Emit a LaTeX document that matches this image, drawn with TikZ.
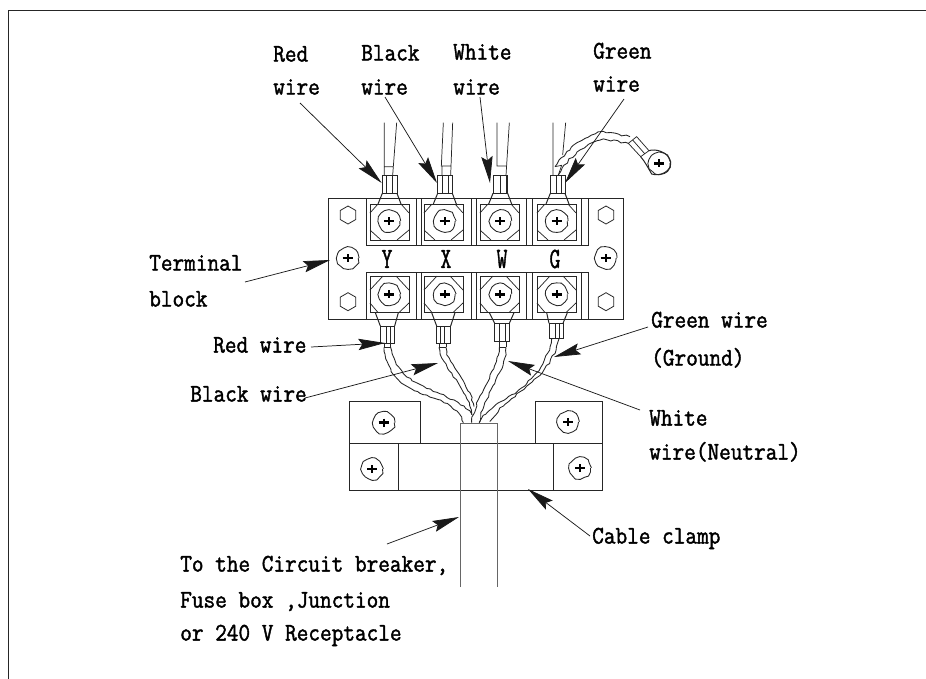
\documentclass[tikz,border=0pt]{standalone}
\usepackage{fontspec}
\setmainfont{Latin Modern Mono}[FakeStretch=.893,FakeBold=1.6]
\usetikzlibrary{arrows.meta,decorations.pathmorphing,shapes.geometric}
\tikzset{
  lbl/.style={anchor=mid west,inner sep=0pt,yshift=-3.5pt,font=\fontsize{19}{20}\selectfont},
  letter/.style={inner sep=0pt,font=\fontsize{22}{22}\selectfont,xscale=.8},
  ln/.style={line width=.75pt,black!85},
  thin ln/.style={line width=.55pt,black!85},
  callout/.style={line width=.55pt,black!90,-{Stealth[length=20pt,width=8.5pt,inset=3pt]}},
  wavy/.style={line width=.65pt,black!85,decorate,decoration={random steps,segment length=2.8pt,amplitude=.7pt}},
  hole/.style={regular polygon,regular polygon sides=6,shape border rotate=30,draw,line width=.6pt,black!85,minimum size=13.5pt,inner sep=0pt},
  zoomA/.style={shift={(320,20)},x=.25pt,y=-.25pt},
  zoomB/.style={shift={(320,240)},x=.25pt,y=-.25pt},
}
\pgfmathsetseed{7}
\newcommand{\myscrew}[3]{%
  \begin{scope}[shift={(#1,#2)},rotate=#3]
    \draw[wavy,decoration={random steps,segment length=3pt,amplitude=.6pt}] (0,0) circle (10.5);
    \draw[line width=2pt,black] (-5,0) -- (5,0);
    \draw[line width=1.4pt,black] (0,-4) -- (0,4);
  \end{scope}}
\begin{document}
\begin{tikzpicture}[x=.75pt,y=-.75pt]
\useasboundingbox (0,0) rectangle (926,679);
% page frame
\draw[ln] (8,679) -- (8,10) -- (926,10);
% terminal block
\draw[ln] (328,198) rectangle (623,319);
\foreach \a/\b in {366/416,421/471.5,476/526,532/581.5}{
  \draw[ln] (\a,198) -- (\a,245) -- (\b,245) -- (\b,198);
  \draw[ln] (\a,319) -- (\a,272) -- (\b,272) -- (\b,319);
}
\draw[ln] (588,198) -- (588,245) -- (581.5,245) (588,319) -- (588,272) -- (581.5,272);
\draw[ln] (416,245) -- (421,245) (471.5,245) -- (476,245) (526,245) -- (532,245);
\draw[ln] (416,272) -- (421,272) (471.5,272) -- (476,272) (526,272) -- (532,272);
% screw squares and lugs
\foreach \l in {370,424,480,537}{
  \draw[ln] (\l,204) rectangle +(39,36);
  \draw[ln] (\l,276) rectangle +(39,36.5);
  \draw[thin ln] (\l,230) -- +(11,10) (\l+39,230) -- +(-12,10);
  \draw[thin ln] (\l,213) -- +(8,-9) (\l+39,213) -- +(-8,-9);
  \draw[thin ln] (\l,290) -- +(13,-14) (\l+39,290) -- +(-13,-14);
  \draw[thin ln] (\l,303) -- +(8,9.5) (\l+39,303) -- +(-10,9.5);
}
% screws in terminals
\foreach \c in {389.3,444.7,500.3,556.7}{
  \myscrew{\c}{221}{0}
  \myscrew{\c}{294.3}{0}
}
\myscrew{347.7}{258}{0}
\myscrew{605.7}{258}{0}
% holes
\node[hole] (hTL) at (348,215) {};
\node[hole] (hTR) at (606,215) {};
\node[hole] (hBL) at (348,301.7) {};
\node[hole] (hBR) at (606,301.7) {};
% letters
\node[letter] (lY) at (387,259) {Y};
\node[letter] (lX) at (446,259) {X};
\node[letter] (lW) at (502,259) {W};
\node[letter] (lG) at (555,259) {G};
% upper lugs and wires
\begin{scope}[zoomA]
  \foreach \d/\i/\j in {0/200/218,166/366/388,332/524/540,504/708/717}{
    \draw[ln] (\d+187,466) rectangle (\d+231,520);
    \draw[ln] (\d+187,520) -- (\d+174,552) (\d+231,520) -- (\d+243,552);
  }
  \draw[thin ln] (200,466) -- (200,520) (218,466) -- (218,520);
  \draw[thin ln] (366,466) -- (366,520) (385,466) -- (385,520);
  \draw[thin ln] (540,466) -- (540,520) (558,466) -- (558,520);
  \draw[thin ln] (708,466) -- (708,520) (724,466) -- (724,520);
  \draw[thin ln] (193,308) -- (193,466) (230,308) -- (218,466) (193,440) -- (218,440);
  \draw[thin ln] (370,308) -- (364,438) -- (392,438) (398,308) -- (392,466) (366,438) -- (366,466);
  \draw[thin ln] (531,308) -- (531,438) -- (558,438) (568,308) -- (558,466);
  \draw[thin ln] (699,308) -- (699,466) (737,308) -- (728,405);
  % ground wire
  \draw[wavy] (705,440) .. controls (735,395) and (790,345) .. (850,335) -- (930,350);
  \draw[wavy] (715,465) .. controls (735,425) and (790,370) .. (850,357) -- (925,370);
  \draw[thin ln] (705,440) -- (725,436) -- (715,465);
  % ground lug and ring
  \draw[thin ln] (925,370) -- (950,350) -- (987,392) -- (962,410) -- cycle (938,360) -- (974,401);
  \draw[ln] (987,392) .. controls (1005,385) and (1045,395) .. (1052,425)
     .. controls (1055,455) and (1020,470) .. (995,462)
     .. controls (985,445) and (975,425) .. (962,410);
\end{scope}
\myscrew{659.3}{163.3}{0}
% lower lugs and wires
\begin{scope}[zoomB]
  \foreach \a/\b/\y/\h/\i/\j/\ta/\tb in {
    181/224/258/310/199/210/166/235,
    350/392/258/310/362/373/335/405,
    524/568/250/304/538/555/508/582,
    687/729/250/296/706/717/680/742}{
    \draw[ln] (\a,\y) rectangle (\b,\h);
    \draw[thin ln] (\i,\y) -- (\i,\h) (\j,\y) -- (\j,\h);
    \draw[ln] (\ta,218) -- (\a,\y) (\tb,218) -- (\b,\y);
  }
  \draw[thin ln] (192,322) -- (212,322) (192,310) -- (192,322) (212,310) -- (212,322);
  \draw[thin ln] (357,322) -- (378,322) (357,310) -- (357,322) (378,310) -- (378,322);
  \draw[thin ln] (538,322) -- (558,322) (538,304) -- (538,322) (558,304) -- (558,322);
  % conductors
  \draw[wavy] (192,322) .. controls (195,390) and (235,430) .. (300,460) .. controls (350,480) and (410,490) .. (430,548);
  \draw[wavy] (212,322) .. controls (220,380) and (265,420) .. (320,445) .. controls (370,465) and (435,490) .. (455,525);
  \draw[wavy] (357,322) .. controls (360,380) and (440,430) .. (455,525);
  \draw[wavy] (378,322) .. controls (385,380) and (445,420) .. (462,500);
  \draw[wavy] (538,322) .. controls (530,400) and (465,470) .. (455,548);
  \draw[wavy] (558,322) .. controls (555,400) and (490,470) .. (478,548);
  \draw[wavy] (695,296) .. controls (680,380) and (620,440) .. (560,475) .. controls (520,500) and (490,520) .. (478,548);
  \draw[wavy] (717,296) .. controls (700,370) and (660,410) .. (600,455) .. controls (570,480) and (530,510) .. (510,545);
\end{scope}
% cable clamp
\draw[ln] (349,401) rectangle (420,443);
\draw[ln] (535,401) rectangle (602,443);
\draw[ln] (349,443) rectangle (602,490);
\draw[ln] (398.7,443) -- (398.7,490) (553.3,443) -- (553.3,490);
\draw[ln] (420,443) -- (535,443);
\myscrew{383.7}{422.7}{0}
\myscrew{568}{422}{0}
\myscrew{372}{469}{0}
\myscrew{580}{468}{0}
% cable
\draw[line width=.75pt,black!60] (460,587) -- (460,423) -- (497,423) -- (497,587);
% labels
\node[lbl] (tRed1) at (273,54) {Red};
\node[lbl] (tRed2) at (273,87) {wire};
\node[lbl] (tBlk1) at (361,53) {Black};
\node[lbl] (tBlk2) at (361,87) {wire};
\node[lbl] (tWht1) at (453,52) {White};
\node[lbl] (tWht2) at (453,87) {wire};
\node[lbl] (tGrn1) at (593,51) {Green};
\node[lbl] (tGrn2) at (593,84) {wire};
\node[lbl] (tTerm1) at (149,263) {Terminal};
\node[lbl] (tTerm2) at (149,299) {block};
\node[lbl] (tRedW) at (213,345) {Red wire};
\node[lbl] (tBlkW) at (190,394) {Black wire};
\node[lbl] (tGrnW1) at (651,320) {Green wire};
\node[lbl] (tGrnW2) at (651,358) {(Ground)};
\node[lbl] (tWhtW1) at (649,418) {White};
\node[lbl] (tWhtW2) at (649,452) {wire(Neutral)};
\node[lbl] (tClamp) at (592,536) {Cable clamp};
\node[lbl] (tTo1) at (180,564) {To the Circuit breaker,};
\node[lbl] (tTo2) at (180,600) {Fuse box ,Junction};
\node[lbl] (tTo3) at (180,633) {or 240 V Receptacle};
% callouts
\coordinate (aRed) at (381.7,183);
\coordinate (aBlk) at (437,183);
\coordinate (aWht) at (490,183);
\coordinate (aGrn) at (565,183);
\coordinate (aTerm) at (330,260);
\coordinate (aRedW) at (385,343);
\coordinate (aBlkW) at (438,363);
\coordinate (aGrnW) at (554,357);
\coordinate (aWhtW) at (508,361);
\coordinate (aClamp) at (528,489);
\coordinate (aCable) at (459,517);
\coordinate (sRed) at (300,103);
\coordinate (sBlk) at (385,97);
\coordinate (sWht) at (480,97);
\coordinate (sGrn) at (624,99);
\coordinate (sTerm) at (245,282);
\coordinate (sRedW) at (311,347);
\coordinate (sBlkW) at (305,398);
\coordinate (sGrnW) at (648,327);
\coordinate (sWhtW) at (640,410);
\coordinate (sClamp) at (590,536);
\coordinate (sCable) at (387,544);
\draw[callout] (sRed) -- (aRed);
\draw[callout] (sBlk) -- (aBlk);
\draw[callout] (sWht) -- (aWht);
\draw[callout] (sGrn) -- (aGrn);
\draw[callout] (sTerm) -- (aTerm);
\draw[callout] (sRedW) -- (aRedW);
\draw[callout] (sBlkW) -- (aBlkW);
\draw[callout] (sGrnW) -- (aGrnW);
\draw[callout] (sWhtW) -- (aWhtW);
\draw[callout] (sClamp) -- (aClamp);
\draw[callout] (sCable) -- (aCable);
\end{tikzpicture}
\end{document}
